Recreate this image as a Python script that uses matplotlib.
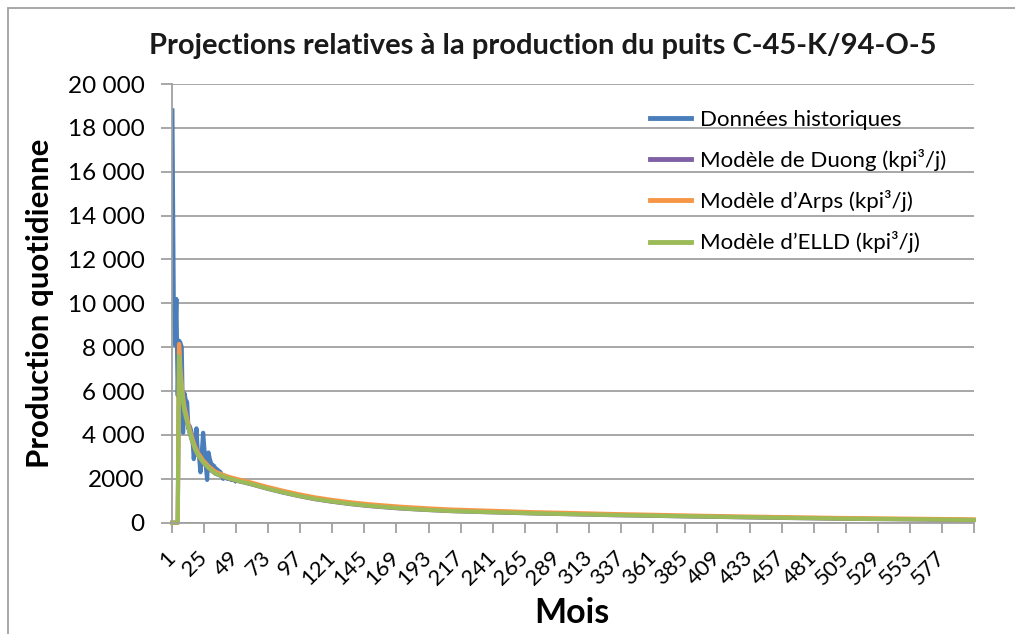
import matplotlib
matplotlib.use('Agg')
import matplotlib.pyplot as plt
import matplotlib.transforms as mtransforms
from matplotlib.patches import Rectangle
import numpy as np

plt.rcParams['font.family'] = ['Lato', 'DejaVu Sans']

# --- Données ---
hist_mois = list(range(1, 49))
hist_prod = [18800, 10300, 8100, 10200, 5800, 8300, 8200, 8000, 4100, 5900,
             5600, 5500, 4300, 4400, 4200, 3900, 2900, 3600, 4300, 3200,
             3000, 2300, 3200, 4100, 3300, 2600, 1950, 3200, 2900, 2700,
             2600, 2600, 2500, 2450, 2400, 2350, 2300, 2150, 2000, 2150,
             2100, 2000, 2050, 2000, 1950, 1950, 1950, 1900]

mod_mois = [1, 2, 3, 4, 5, 6, 7, 8, 9, 10, 12, 14, 16, 18, 20, 24, 28, 33,
            40, 45, 50, 60, 72, 84, 96, 108, 120, 134, 150, 171, 190, 209,
            230, 246, 270, 300, 330, 360, 388, 420, 450, 480, 500, 540, 570, 600]
elld = [0, 0, 0, 0, 0, 7600, 6700, 6050, 5500, 5100, 4600, 4100, 3700, 3350,
        3100, 2750, 2500, 2250, 2080, 1990, 1910, 1760, 1560, 1380, 1220, 1080,
        970, 860, 760, 660, 590, 535, 495, 470, 430, 390, 350, 320, 290, 260,
        230, 205, 185, 165, 145, 125]
arps = [0, 0, 0, 0, 0, 8150, 7050, 6300, 5700, 5280, 4750, 4230, 3820, 3460,
        3200, 2840, 2580, 2330, 2150, 2060, 1980, 1830, 1630, 1450, 1290, 1150,
        1040, 930, 830, 730, 660, 600, 560, 530, 480, 440, 395, 360, 325, 290,
        260, 235, 215, 190, 170, 150]
duong = [0, 0, 0, 0, 0, 7550, 6650, 6000, 5470, 5070, 4570, 4080, 3680, 3330,
         3080, 2730, 2480, 2240, 2070, 1980, 1900, 1750, 1550, 1370, 1210, 1070,
         960, 850, 750, 650, 585, 530, 490, 465, 425, 385, 345, 315, 285, 255,
         225, 200, 180, 160, 140, 120]

y_ticks = [0, 2000, 4000, 6000, 8000, 10000, 12000, 14000, 16000, 18000, 20000]
y_labels = ['0', '2000', '4 000', '6 000', '8 000', '10 000', '12 000',
            '14 000', '16 000', '18 000', '20 000']
x_labels = [str(m) for m in range(1, 578, 24)]

W, H = 1015, 634
fig = plt.figure(figsize=(W / 100, H / 100), dpi=100)
ax = fig.add_axes([171.7 / W, 1 - 522.7 / H, 802.6 / W, 438.7 / H])

# cadre du graphique (seuls les bords gauche et haut sont visibles)
fig.patches.append(Rectangle((8 / W, -0.1), 1.2, 1 - 8 / H + 0.1,
                             transform=fig.transFigure, fill=False,
                             edgecolor='#a0a0a0', lw=1.3))

lw = 3.0
ax.plot(hist_mois, hist_prod, color='#4a7ebb', lw=lw, label='Données historiques',
        solid_joinstyle='round')
ax.plot(mod_mois, duong, color='#7f60a5', lw=lw, label='Modèle de Duong (kpi³/j)',
        clip_on=False)
ax.plot(mod_mois, arps, color='#f79646', lw=lw, label='Modèle d’Arps (kpi³/j)',
        clip_on=False)
ax.plot(mod_mois, elld, color='#9bbb59', lw=lw, label='Modèle d’ELLD (kpi³/j)',
        clip_on=False)

ax.set_xlim(0.5, 600.5)
ax.set_ylim(0, 20000)
ax.set_yticks(y_ticks)
ax.set_yticklabels(y_labels, fontsize=17.5)
ax.set_xticks(np.arange(0.5, 601, 24))
ax.set_xticklabels(x_labels + [''], fontsize=16, rotation=45, ha='right',
                   va='center', rotation_mode='anchor')
off = mtransforms.ScaledTranslation(-5 / 100, 0, fig.dpi_scale_trans)
for lab in ax.get_xticklabels():
    lab.set_transform(lab.get_transform() + off)

ax.tick_params(axis='y', length=8, width=1.3, color='#a0a0a0', pad=11.5)
ax.tick_params(axis='x', length=7, width=1.3, color='#a0a0a0', pad=16)
ax.grid(axis='y', color='#a0a0a0', lw=1.3)
ax.set_axisbelow(True)
for s in ['top', 'right']:
    ax.spines[s].set_visible(False)
for s in ['left', 'bottom']:
    ax.spines[s].set_color('#a0a0a0')
    ax.spines[s].set_linewidth(1.3)

ax.set_ylabel('Production quotidienne', fontsize=22.5, fontweight='bold')
ax.yaxis.set_label_coords(-0.147, 0.5)
ax.set_xlabel('Mois', fontsize=24.5, fontweight='bold')
ax.xaxis.set_label_coords(0.499, -0.17)

fig.text(543 / W, 1 - 46 / H, 'Projections relatives à la production du puits C-45-K/94-O-5',
         ha='center', va='center', fontsize=21, fontweight='bold', color='#1a1a1a')

leg = ax.legend(loc='upper left', bbox_to_anchor=((650 - 171.7) / 802.6, 1 - (110 - 84) / 438.7),
                frameon=False, fontsize=16, handlelength=1.85, handletextpad=0.4,
                labelspacing=0.86, borderaxespad=0, borderpad=0)
for line in leg.get_lines():
    line.set_linewidth(3.5)

fig.savefig('out.png', dpi=100)
